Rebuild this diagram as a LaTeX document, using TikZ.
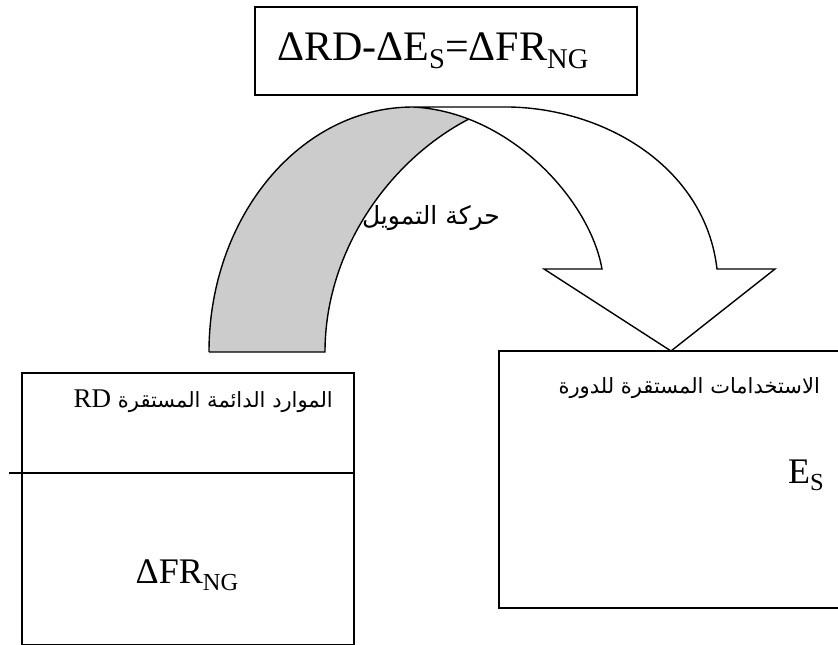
\documentclass[tikz,border=0pt]{standalone}
\usepackage{fontspec}
\setmainfont{Liberation Serif}
\newfontfamily\arabicfont[Script=Arabic]{DejaVu Sans}
\TeXXeTstate=1
\usetikzlibrary{positioning}

% lowered small index, as in the word-processor original
\newcommand\lowidx[1]{\raisebox{-0.2em}{\scalebox{0.68}{#1}}}

\tikzset{
  frame/.style={draw, line width=1.5pt, inner sep=0pt},
  eqtext/.style={font=\fontsize{42}{48}\selectfont, inner sep=0pt},
  mtext/.style={font=\fontsize{36}{42}\selectfont, inner sep=0pt},
  artext/.style={font=\arabicfont\fontsize{21}{26}\selectfont, inner sep=0pt},
  band/.style={draw, line width=1.4pt, line join=miter}
}

\begin{document}
\begin{tikzpicture}[x=1pt,y=-1pt]
\useasboundingbox (0,0) rectangle (838,645);
\clip (0,0) rectangle (838,645);

% boxes
\node[frame, minimum width=382pt, minimum height=88pt, anchor=north west] (eqbox) at (254,6) {};
\node[frame, minimum width=332pt, minimum height=272pt, anchor=north west] (rdbox) at (21,372) {};
\node[frame, minimum width=400pt, minimum height=257pt, anchor=north west] (esbox) at (498,350) {};
\coordinate (cut) at (9,473);
\draw[line width=2.2pt] (cut) -- (rdbox.east |- cut);

% texts
\node[eqtext, anchor=base west] (eq) at (277,60) {ΔRD-ΔE\lowidx{S}=ΔFR\lowidx{NG}};
\node[artext, anchor=base east] (rdlabel) at (333,407)
  {\beginR الموارد الدائمة المستقرة {\fontspec{Liberation Serif}\fontsize{27}{30}\selectfont\beginL RD\endL}\endR};
\node[mtext, anchor=base] (fr) at (187,583) {ΔFR\lowidx{NG}};
\node[artext, anchor=base east] (eslabel) at (820,393) {\beginR الاستخدامات المستقرة للدورة\endR};
\node[mtext, anchor=base west] (es) at (788,483) {E\lowidx{S}};

% curved arrow: back face
\fill[gray!40] (209,352) .. controls (209,216.7) and (300.3,107) .. (413,107)
  .. controls (432.4,108) and (451.1,112.3) .. (468.7,119.1)
  .. controls (390,160) and (325,250) .. (325,352) -- cycle;
\draw[band] (209,352) .. controls (209,216.7) and (300.3,107) .. (413,107)
  (468.7,119.1) .. controls (390,160) and (325,250) .. (325,352) -- (209,352);
% curved arrow: front face with head
\draw[band, fill=white] (413,107) -- (500,107) .. controls (600,105) and (705,165) .. (717,269)
  -- (775,269) -- (671,351) -- (544,269) -- (602,269)
  .. controls (592.4,214) and (539.3,146.5) .. (468.7,119.1)
  .. controls (451.1,112.3) and (432.4,108) .. (413,107) -- cycle;
\node[artext, font=\arabicfont\fontsize{25}{30}\selectfont] (flow) at (431,218) {\beginR حركة التمويل\endR};
\end{tikzpicture}
\end{document}
